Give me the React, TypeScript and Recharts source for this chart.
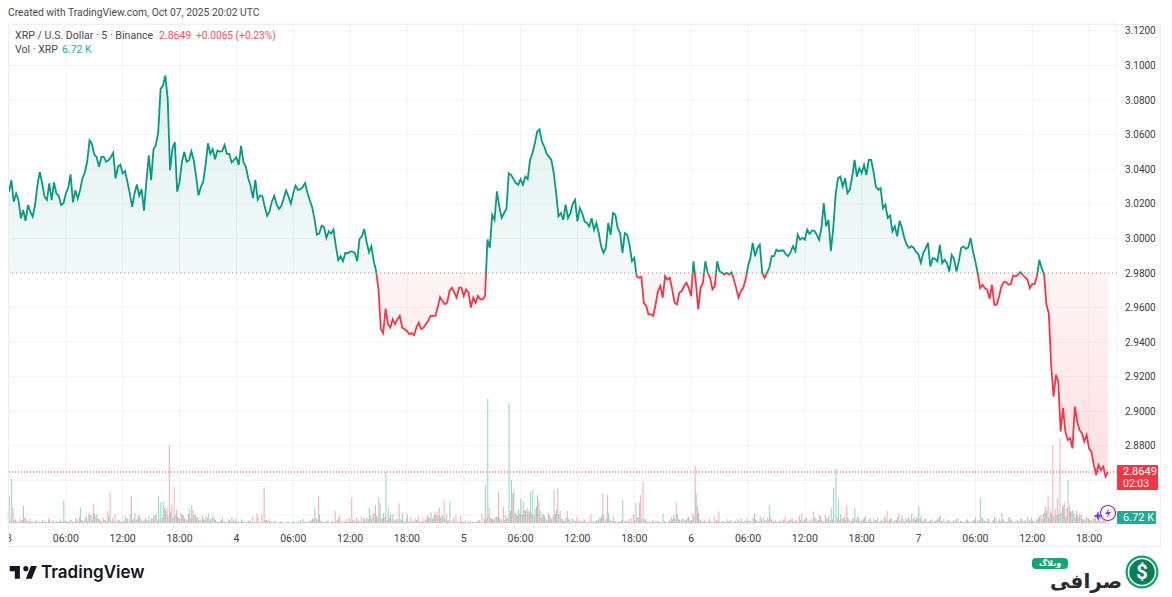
import { ComposedChart, Area, Bar, XAxis, YAxis, CartesianGrid, ReferenceLine } from 'recharts'

const FONT = 'Roboto, "Open Sans", sans-serif'
const GREEN = '#089981'
const RED = '#F23645'
const BASE_PRICE = 2.98
const LAST_PRICE = 2.8649

// 15 minute closes from Oct 3 00:00, one row per 6 hours (24 values)
const prices = [
  3.0270,3.0337,3.0212,3.0260,3.0222,3.0116,3.0164,3.0101,3.0193,3.0155,3.0126,3.0193,3.0308,3.0385,3.0318,3.0241,3.0222,3.0318,3.0222,3.0324,3.0260,3.0247,3.0193,3.0203,
  3.0260,3.0293,3.0370,3.0208,3.0279,3.0231,3.0279,3.0347,3.0381,3.0443,3.0567,3.0548,3.0485,3.0471,3.0414,3.0471,3.0471,3.0443,3.0452,3.0471,3.0496,3.0347,3.0414,3.0427,
  3.0375,3.0389,3.0327,3.0260,3.0183,3.0260,3.0312,3.0247,3.0285,3.0160,3.0327,3.0481,3.0337,3.0516,3.0539,3.0615,3.0865,3.0884,3.0942,3.0807,3.0395,3.0519,3.0558,3.0270,
  3.0327,3.0443,3.0500,3.0443,3.0452,3.0504,3.0452,3.0358,3.0249,3.0297,3.0329,3.0425,3.0550,3.0489,3.0516,3.0458,3.0508,3.0502,3.0504,3.0540,3.0489,3.0489,3.0439,3.0454,
  3.0469,3.0425,3.0535,3.0439,3.0416,3.0348,3.0304,3.0233,3.0339,3.0224,3.0249,3.0243,3.0181,3.0132,3.0156,3.0214,3.0247,3.0195,3.0170,3.0189,3.0233,3.0277,3.0243,3.0201,
  3.0262,3.0306,3.0281,3.0285,3.0297,3.0320,3.0266,3.0220,3.0181,3.0112,3.0022,3.0028,3.0074,3.0066,3.0003,3.0041,3.0028,3.0051,2.9955,2.9874,2.9897,2.9868,2.9916,2.9913,
  2.9924,2.9924,2.9916,2.9868,2.9997,3.0012,3.0055,2.9978,2.9920,2.9955,2.9868,2.9811,2.9705,2.9475,2.9452,2.9594,2.9504,2.9484,2.9532,2.9504,2.9532,2.9552,2.9484,2.9475,
  2.9465,2.9446,2.9452,2.9440,2.9484,2.9513,2.9475,2.9484,2.9504,2.9523,2.9552,2.9552,2.9552,2.9600,2.9661,2.9638,2.9619,2.9628,2.9696,2.9715,2.9686,2.9657,2.9715,2.9715,
  2.9667,2.9705,2.9686,2.9600,2.9657,2.9628,2.9667,2.9648,2.9648,2.9667,2.9993,2.9945,3.0137,3.0108,3.0272,3.0185,3.0118,3.0147,3.0170,3.0377,3.0368,3.0343,3.0320,3.0310,
  3.0343,3.0310,3.0358,3.0343,3.0454,3.0492,3.0550,3.0617,3.0631,3.0560,3.0531,3.0489,3.0473,3.0454,3.0377,3.0262,3.0128,3.0147,3.0108,3.0195,3.0118,3.0146,3.0200,3.0223,
  3.0098,3.0175,3.0146,3.0098,3.0089,3.0069,3.0117,3.0050,3.0089,3.0031,2.9954,2.9916,2.9945,3.0089,3.0021,3.0146,3.0137,3.0060,3.0031,2.9916,3.0031,3.0021,2.9964,2.9868,
  2.9887,2.9781,2.9772,2.9778,2.9628,2.9609,2.9561,2.9561,2.9551,2.9618,2.9695,2.9724,2.9657,2.9781,2.9762,2.9772,2.9705,2.9628,2.9618,2.9685,2.9695,2.9724,2.9743,2.9714,
  2.9666,2.9868,2.9743,2.9589,2.9714,2.9743,2.9868,2.9801,2.9772,2.9705,2.9724,2.9868,2.9810,2.9801,2.9791,2.9801,2.9791,2.9804,2.9762,2.9714,2.9657,2.9695,2.9714,2.9762,
  2.9839,2.9887,2.9974,2.9897,2.9945,2.9964,2.9801,2.9772,2.9801,2.9830,2.9897,2.9897,2.9935,2.9926,2.9930,2.9930,2.9907,2.9897,2.9922,2.9955,2.9926,3.0022,2.9993,3.0003,
  2.9993,3.0051,3.0026,3.0045,3.0045,3.0022,2.9993,3.0060,3.0204,3.0070,3.0108,2.9926,3.0060,3.0252,3.0348,3.0358,3.0300,3.0348,3.0262,3.0281,3.0358,3.0454,3.0358,3.0406,
  3.0377,3.0425,3.0367,3.0454,3.0454,3.0387,3.0300,3.0281,3.0291,3.0175,3.0195,3.0118,3.0133,3.0041,3.0070,3.0012,3.0102,3.0060,3.0003,2.9964,2.9945,2.9955,2.9945,2.9922,
  2.9907,2.9859,2.9916,2.9941,2.9974,2.9838,2.9886,2.9882,2.9867,2.9963,2.9857,2.9876,2.9857,2.9809,2.9905,2.9882,2.9809,2.9867,2.9944,2.9954,2.9940,2.9948,3.0002,2.9925,
  2.9867,2.9799,2.9712,2.9732,2.9712,2.9703,2.9651,2.9732,2.9616,2.9616,2.9664,2.9722,2.9747,2.9747,2.9732,2.9736,2.9786,2.9780,2.9790,2.9805,2.9790,2.9774,2.9761,2.9712,
  2.9736,2.9736,2.9780,2.9876,2.9828,2.9793,2.9616,2.9568,2.9269,2.9085,2.9211,2.9172,2.8883,2.9018,2.8883,2.8834,2.8844,2.8786,2.9027,2.8940,2.8892,2.8873,2.8825,2.8863,
  2.8786,2.8767,2.8690,2.8632,2.8690,2.8661,2.8680,2.8622,2.8649,
]

// volume in thousands for the same slots, rising and falling candles
const volumeUp = [
  64,106,8,5,3,6,42,12,4,5,3,6,2,4,8,5,3,7,4,2,6,3,5,54,
  6,4,9,3,12,5,38,7,14,6,20,8,24,22,10,5,8,4,16,6,3,5,9,4,
  5,18,12,22,8,24,10,16,5,7,6,18,12,20,24,66,50,52,30,18,26,14,20,16,
  10,22,12,8,36,44,20,14,8,6,10,16,24,12,20,8,5,6,12,4,3,8,14,5,
  4,3,10,5,3,6,2,3,2,14,3,4,8,5,6,2,4,2,3,5,2,1,3,2,
  4,2,3,8,10,3,4,7,12,36,8,20,5,3,6,2,4,3,6,14,4,2,6,3,
  5,8,3,6,4,3,10,14,38,10,22,18,62,12,24,124,36,22,22,8,6,12,22,5,
  22,3,5,4,8,6,3,4,10,14,26,16,20,18,14,16,10,6,52,3,4,2,3,5,
  3,2,4,2,3,5,6,2,3,92,298,14,10,14,16,14,6,8,12,288,104,80,22,34,
  58,52,30,28,76,80,36,68,30,24,18,8,20,10,80,34,22,10,6,14,12,4,10,6,
  3,6,4,8,3,2,6,4,8,14,18,20,12,24,6,16,4,4,4,56,6,3,5,4,
  6,14,50,10,8,4,3,2,5,3,4,2,22,4,3,5,10,14,22,8,12,6,10,14,
  8,16,72,24,8,5,3,6,3,2,4,6,3,5,3,10,6,2,4,3,6,12,3,5,
  4,6,14,10,3,16,5,8,14,44,8,5,3,6,2,8,4,6,10,5,7,3,8,6,
  12,4,7,3,14,6,20,8,4,10,18,36,86,130,58,22,12,8,14,6,12,36,16,6,
  8,14,5,10,4,12,8,3,6,4,10,6,12,4,8,14,6,18,5,8,10,22,16,14,
  40,18,6,10,4,8,3,6,12,20,5,3,8,4,3,6,10,3,5,2,8,4,3,7,
  14,8,62,12,5,10,3,6,16,4,10,24,6,4,14,8,3,6,4,12,5,8,16,4,
  6,3,8,18,10,28,30,14,24,16,20,22,26,44,16,104,28,32,14,20,26,10,6,14,
  8,5,10,6,12,4,8,5,6.72,
]
const volumeDown = [
  30,5,38,10,4,12,8,14,6,10,4,3,7,4,2,5,3,12,4,8,3,5,10,4,
  6,3,8,6,3,10,14,8,5,18,24,20,46,16,10,6,14,8,30,74,12,22,5,8,
  4,6,10,5,64,12,8,20,10,6,14,8,4,12,18,6,10,14,38,36,188,44,88,32,
  14,24,18,10,22,12,30,20,14,10,18,8,12,6,10,14,4,3,8,5,2,10,4,6,
  12,5,3,4,2,3,8,16,4,24,3,20,86,8,10,4,3,6,2,4,3,2,5,2,
  3,2,4,3,2,5,3,4,6,10,14,64,6,4,3,8,2,5,30,8,18,6,4,10,
  12,62,8,14,6,16,12,6,10,18,24,44,14,48,12,16,8,14,10,6,12,48,8,4,
  10,5,16,6,12,18,4,14,8,20,14,10,26,30,38,20,54,22,8,5,12,20,4,18,
  4,8,3,6,4,2,5,8,24,10,14,38,12,8,16,76,10,40,20,14,30,72,26,18,
  24,20,32,36,30,22,18,40,54,14,20,10,26,14,18,22,84,30,10,6,30,8,12,5,
  14,6,4,10,3,6,22,4,5,8,12,72,6,68,10,4,6,3,5,8,4,6,10,12,
  22,48,14,68,100,12,6,4,8,3,6,4,3,5,2,8,14,20,50,12,6,10,8,16,
  6,24,138,42,10,4,8,3,12,5,16,8,28,4,6,3,5,8,3,6,10,5,4,7,
  12,5,3,24,8,5,12,16,6,10,14,4,8,3,6,10,16,5,8,12,4,6,18,24,
  8,14,5,10,28,12,8,16,6,20,12,8,10,6,14,8,12,18,42,10,6,12,8,14,
  6,10,16,5,12,4,8,14,6,10,16,30,8,12,5,8,24,10,6,12,16,6,10,8,
  14,10,5,12,3,6,10,4,8,14,6,10,3,7,5,8,4,12,6,3,5,10,4,6,
  8,3,6,14,8,4,10,3,8,12,5,6,10,3,5,14,6,3,8,4,10,5,3,8,
  12,6,10,14,20,22,40,64,30,188,34,60,204,38,50,36,42,28,24,30,16,20,10,16,
  12,8,14,20,6,16,6,10,0,
]

const priceTicks = [2.84, 2.86, 2.88, 2.9, 2.92, 2.94, 2.96, 2.98, 3, 3.02, 3.04, 3.06, 3.08, 3.1, 3.12]
const hourTicks = [0, 6, 12, 18, 24, 30, 36, 42, 48, 54, 60, 66, 72, 78, 84, 90, 96, 102, 108, 114]

const rows = prices.map((price, i) => ({
  hour: i / 4,
  price,
  up: volumeUp[i],
  down: volumeDown[i],
}))

const maxPrice = Math.max(...prices)
const minPrice = Math.min(...prices)
const split = (maxPrice - BASE_PRICE) / (maxPrice - minPrice)

function hourLabel(h: number) {
  if (h % 24 === 0) return String(3 + h / 24)
  const hh = h % 24
  return (hh < 10 ? '0' : '') + hh + ':00'
}

function Txt({ x, y, color = '#4a4a4a', size = 11, children }: any) {
  return (
    <div style={{ position: 'absolute', left: x, top: y, color, fontSize: size, fontFamily: FONT, lineHeight: '14px', whiteSpace: 'nowrap' }}>
      {children}
    </div>
  )
}

export default function App() {
  return (
    <div style={{ position: 'absolute', left: 0, top: 0, width: 1172, height: 597, background: '#fff', overflow: 'hidden' }}>
      <ComposedChart width={1172} height={597} data={rows} barSize={1} barGap={0} margin={{ top: 24, right: 11, bottom: 50, left: 9 }}>
        <defs>
          <linearGradient id="priceStroke" x1="0" y1="0" x2="0" y2="1">
            <stop offset={split} stopColor={GREEN} />
            <stop offset={split} stopColor={RED} />
          </linearGradient>
          <linearGradient id="priceFill" x1="0" y1="0" x2="0" y2="1">
            <stop offset={0} stopColor={GREEN} stopOpacity={0.13} />
            <stop offset={split} stopColor={GREEN} stopOpacity={0.05} />
            <stop offset={split} stopColor={RED} stopOpacity={0.05} />
            <stop offset={1} stopColor={RED} stopOpacity={0.16} />
          </linearGradient>
        </defs>
        <CartesianGrid yAxisId="price" stroke="#f2f3f3" ticks={priceTicks} />
        <XAxis
          dataKey="hour"
          type="number"
          domain={[0, 116.95]}
          ticks={hourTicks}
          interval={0}
          tickFormatter={hourLabel}
          tickLine={false}
          axisLine={false}
          height={20}
          tick={{ fontSize: 10.5, fontFamily: FONT, fill: '#3d3d3d' }}
        />
        <YAxis
          yAxisId="price"
          orientation="right"
          domain={[2.8331, 3.124]}
          ticks={priceTicks}
          interval={0}
          allowDataOverflow
          tickFormatter={(v: number) => (v < 2.87 ? '' : v.toFixed(4))}
          tickLine={false}
          axisLine={false}
          width={44}
          tick={{ fontSize: 10, fontFamily: FONT, fill: '#3d3d3d' }}
        />
        <YAxis yAxisId="vol" hide domain={[-9, 1198]} allowDataOverflow />
        <Bar yAxisId="vol" dataKey="down" fill="#f7525f" fillOpacity={0.5} isAnimationActive={false} />
        <Bar yAxisId="vol" dataKey="up" fill="#22ab94" fillOpacity={0.5} isAnimationActive={false} />
        <ReferenceLine yAxisId="price" y={BASE_PRICE} stroke="#9aa0a6" strokeDasharray="1 3" />
        <ReferenceLine yAxisId="price" y={LAST_PRICE} stroke={RED} strokeDasharray="1 2" />
        <Area
          yAxisId="price"
          dataKey="price"
          type="linear"
          baseValue={BASE_PRICE}
          stroke="url(#priceStroke)"
          strokeWidth={1.8}
          fill="url(#priceFill)"
          fillOpacity={1}
          dot={false}
          activeDot={false}
          isAnimationActive={false}
        />
      </ComposedChart>

      <div style={{ position: 'absolute', left: 0, top: 526, width: 8, height: 20, background: '#fff' }} />
      <div style={{ position: 'absolute', left: 8, top: 24, width: 1153, height: 523, border: '1px solid #efefef', boxSizing: 'border-box' }} />

      <Txt x={8} y={6} size={10.3}>Created with TradingView.com, Oct 07, 2025 20:02 UTC</Txt>
      <Txt x={15} y={29} size={10.6}>XRP / U.S. Dollar · 5 · Binance</Txt>
      <Txt x={159} y={29} size={10.5} color="#f7525f">2.8649</Txt>
      <Txt x={196} y={29} size={10.2} color="#f7525f">+0.0065 (+0.23%)</Txt>
      <Txt x={15} y={43} size={10.6}>Vol · XRP</Txt>
      <Txt x={62} y={43} size={10.5} color="#22ab94">6.72 K</Txt>

      <div style={{ position: 'absolute', left: 1117, top: 465, width: 41, height: 25, background: RED, borderRadius: 1 }} />
      <Txt x={1123} y={465} color="#fff">2.8649</Txt>
      <Txt x={1123} y={477} color="#fde4e6" size={10.5}>02:03</Txt>
      <div style={{ position: 'absolute', left: 1117, top: 511, width: 39, height: 13, background: '#22ab94', borderRadius: 1 }} />
      <Txt x={1123} y={510.5} color="#fff">6.72 K</Txt>

      <svg style={{ position: 'absolute', left: 1092, top: 502 }} width={26} height={22}>
        <circle cx={16} cy={11} r={7.5} fill="#fff" stroke="#9c27b0" strokeWidth={1.2} />
        <path d="M17.5 6 L13 12 L16 12 L14.5 16 L19 10 L16 10 Z" fill="#7b3fe4" />
        <path d="M6 9 L7.3 12.7 L11 14 L7.3 15.3 L6 19 L4.7 15.3 L1 14 L4.7 12.7 Z" fill="#5a4be0" />
      </svg>

      <svg style={{ position: 'absolute', left: 8.3, top: 561 }} width={30.6} height={23.8} viewBox="0 0 36 28">
        <path d="M14 6H2v6h6v9h6V6Zm14 15h-7l6-15h7l-6 15Zm-7-9a3 3 0 1 0 0-6 3 3 0 0 0 0 6Z" fill="#131722" />
      </svg>
      <div style={{ position: 'absolute', left: 41, top: 561, fontFamily: 'Inter, Roboto, sans-serif', fontWeight: 600, fontSize: 17, lineHeight: '22px', color: '#131722' }}>TradingView</div>

      <div style={{ position: 'absolute', left: 1032, top: 558, width: 36, height: 11, background: '#17a673', borderRadius: 4, color: '#fff', fontFamily: '"DejaVu Sans"', fontWeight: 700, fontSize: 8, lineHeight: '11px', textAlign: 'center', zIndex: 2 }}>وبلاگ</div>
      <div style={{ position: 'absolute', left: 1048, top: 574.5, width: 74, textAlign: 'right', fontFamily: '"DejaVu Sans"', fontWeight: 700, fontSize: 20, lineHeight: '13px', color: '#2b2b2b' }}>صرافی</div>
      <svg style={{ position: 'absolute', left: 1125, top: 555 }} width={34} height={34}>
        <circle cx={17} cy={17} r={16.5} fill="#12a06f" />
        <circle cx={17} cy={17} r={13.5} fill="#0c7f58" stroke="#fff" strokeWidth={1.5} />
        <text x={17} y={24} textAnchor="middle" fontFamily="Roboto" fontWeight={700} fontSize={20} fill="#fff">$</text>
      </svg>
    </div>
  )
}
